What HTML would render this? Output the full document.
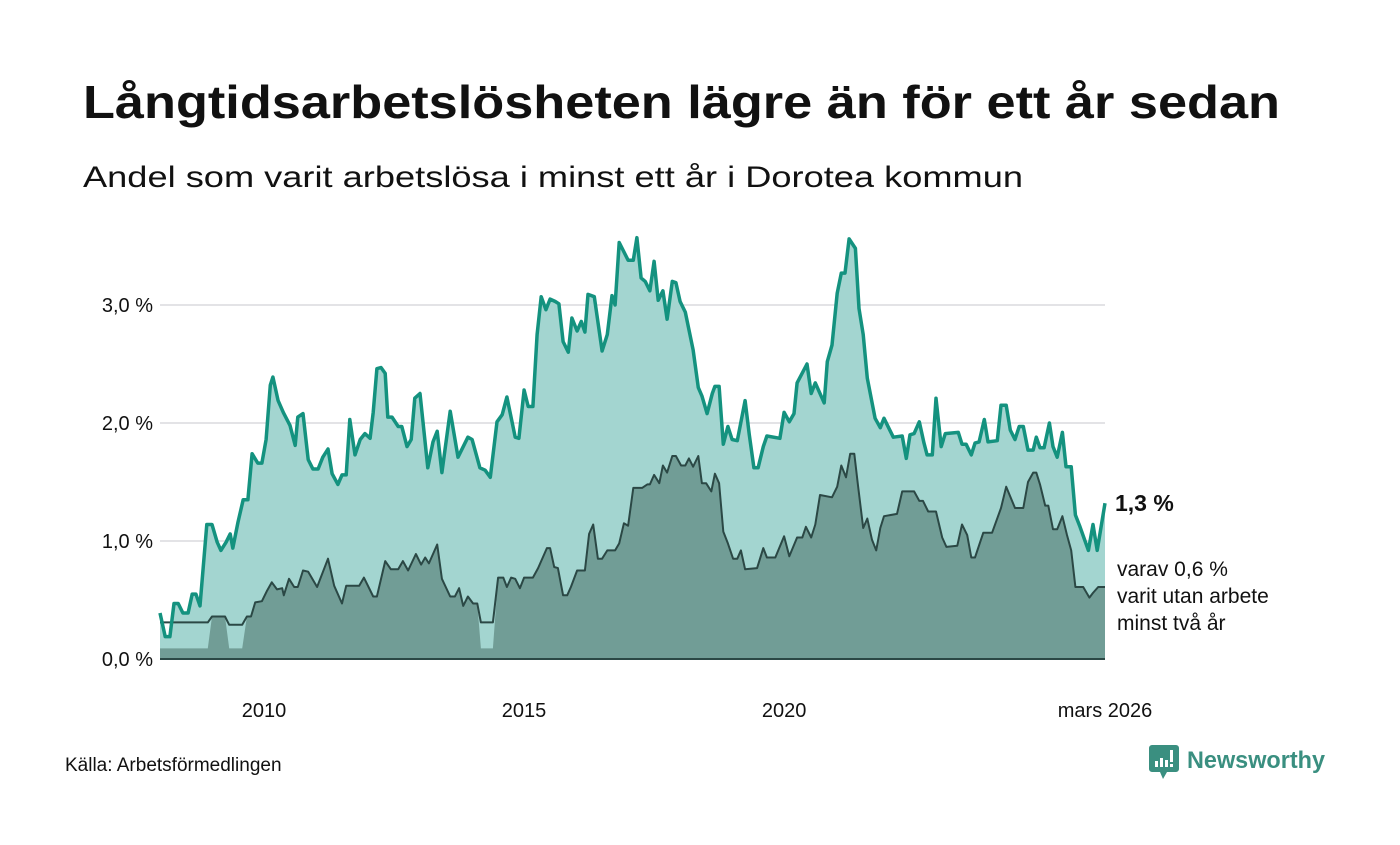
<!DOCTYPE html>
<html><head><meta charset="utf-8">
<style>
html,body{margin:0;padding:0;background:#fff;}
svg text{font-family:"Liberation Sans",sans-serif;}
</style></head>
<body>
<svg id="chart" width="1400" height="840" viewBox="0 0 1400 840" xmlns="http://www.w3.org/2000/svg">
<rect width="1400" height="840" fill="#fff"/>
<text x="83" y="118" font-size="46" font-weight="bold" fill="#111" textLength="1197" lengthAdjust="spacingAndGlyphs">Långtidsarbetslösheten lägre än för ett år sedan</text>
<text x="83" y="187" font-size="30" fill="#111" textLength="940" lengthAdjust="spacingAndGlyphs">Andel som varit arbetslösa i minst ett år i Dorotea kommun</text>
<g id="grid"></g>
<g id="areas"></g>
<g id="yticks"></g>
<g id="xticks"></g>
<text x="1115" y="511" font-size="23" font-weight="bold" fill="#111">1,3 %</text>
<text x="1117" y="576" font-size="21" fill="#111">varav 0,6 %</text>
<text x="1117" y="603" font-size="21" fill="#111">varit utan arbete</text>
<text x="1117" y="630" font-size="21" fill="#111">minst två år</text>
<text x="65" y="771" font-size="19" fill="#111">Källa: Arbetsförmedlingen</text>
<g>
<path d="M1152 745 h24 a3 3 0 0 1 3 3 v21 a3 3 0 0 1 -3 3 h-9 l-4 7 l-3 -7 h-8 a3 3 0 0 1 -3 -3 v-21 a3 3 0 0 1 3 -3z" fill="#3a8f80"/>
<rect x="1155" y="761" width="3" height="6" fill="#fff"/><rect x="1160" y="758" width="3" height="9" fill="#fff"/><rect x="1165" y="760" width="3" height="7" fill="#fff"/><rect x="1170" y="750" width="3" height="12" fill="#fff"/><rect x="1170" y="764" width="3" height="3" fill="#fff"/>
<text x="1187" y="768" font-size="24" font-weight="bold" fill="#3a8f80" textLength="138" lengthAdjust="spacingAndGlyphs">Newsworthy</text>
</g>
</svg>
<script>
const totalT = [2008.00,2008.10,2008.19,2008.27,2008.35,2008.44,2008.54,2008.62,2008.69,2008.77,2008.90,2009.00,2009.10,2009.17,2009.27,2009.35,2009.40,2009.50,2009.60,2009.69,2009.77,2009.88,2009.96,2010.04,2010.12,2010.17,2010.27,2010.37,2010.50,2010.60,2010.65,2010.75,2010.85,2010.94,2011.04,2011.13,2011.23,2011.31,2011.42,2011.50,2011.58,2011.65,2011.75,2011.85,2011.94,2012.04,2012.10,2012.17,2012.25,2012.33,2012.38,2012.46,2012.58,2012.65,2012.75,2012.83,2012.90,2013.00,2013.15,2013.25,2013.33,2013.42,2013.58,2013.73,2013.92,2014.00,2014.15,2014.25,2014.35,2014.48,2014.58,2014.67,2014.83,2014.90,2015.00,2015.08,2015.17,2015.25,2015.33,2015.42,2015.50,2015.60,2015.67,2015.75,2015.85,2015.92,2016.02,2016.10,2016.17,2016.23,2016.35,2016.50,2016.60,2016.69,2016.75,2016.83,2017.00,2017.10,2017.17,2017.25,2017.33,2017.42,2017.50,2017.58,2017.67,2017.75,2017.85,2017.92,2018.00,2018.10,2018.25,2018.35,2018.42,2018.52,2018.62,2018.67,2018.75,2018.83,2018.92,2019.00,2019.10,2019.25,2019.33,2019.42,2019.50,2019.60,2019.67,2019.92,2020.00,2020.10,2020.19,2020.25,2020.44,2020.52,2020.60,2020.77,2020.83,2020.92,2021.02,2021.10,2021.17,2021.25,2021.37,2021.44,2021.52,2021.60,2021.75,2021.85,2021.92,2022.10,2022.27,2022.35,2022.42,2022.50,2022.60,2022.69,2022.75,2022.85,2022.92,2023.02,2023.10,2023.35,2023.42,2023.50,2023.60,2023.67,2023.75,2023.85,2023.92,2024.10,2024.17,2024.27,2024.35,2024.44,2024.52,2024.60,2024.69,2024.79,2024.85,2024.92,2025.00,2025.10,2025.17,2025.25,2025.35,2025.42,2025.52,2025.60,2025.69,2025.85,2025.94,2026.02,2026.17];
const totalV = [0.39,0.19,0.19,0.47,0.47,0.39,0.39,0.55,0.55,0.45,1.14,1.14,0.99,0.92,0.99,1.06,0.94,1.16,1.35,1.35,1.74,1.66,1.66,1.86,2.32,2.39,2.19,2.09,1.98,1.81,2.05,2.08,1.69,1.61,1.61,1.71,1.78,1.57,1.48,1.56,1.56,2.03,1.73,1.86,1.91,1.87,2.09,2.46,2.47,2.42,2.05,2.05,1.97,1.97,1.80,1.86,2.21,2.25,1.62,1.84,1.93,1.58,2.10,1.71,1.88,1.86,1.62,1.60,1.54,2.01,2.07,2.22,1.88,1.87,2.28,2.14,2.14,2.75,3.07,2.96,3.05,3.03,3.01,2.69,2.60,2.89,2.78,2.86,2.77,3.09,3.07,2.61,2.75,3.08,3.00,3.53,3.38,3.38,3.57,3.23,3.20,3.12,3.37,3.04,3.12,2.88,3.20,3.19,3.03,2.94,2.62,2.30,2.23,2.08,2.25,2.31,2.31,1.82,1.97,1.86,1.85,2.19,1.90,1.62,1.62,1.80,1.89,1.87,2.09,2.01,2.08,2.34,2.50,2.25,2.34,2.17,2.52,2.66,3.10,3.27,3.27,3.56,3.48,2.97,2.75,2.38,2.04,1.96,2.04,1.88,1.89,1.70,1.90,1.91,2.01,1.83,1.73,1.73,2.21,1.80,1.91,1.92,1.82,1.82,1.73,1.83,1.84,2.03,1.84,1.85,2.15,2.15,1.94,1.86,1.97,1.97,1.77,1.77,1.88,1.79,1.79,2.00,1.80,1.71,1.92,1.63,1.63,1.22,1.12,0.92,1.14,0.92,1.32];
const longT = [2008.00,2008.92,2009.00,2009.25,2009.33,2009.58,2009.67,2009.75,2009.83,2009.96,2010.06,2010.15,2010.25,2010.35,2010.38,2010.48,2010.58,2010.65,2010.75,2010.85,2011.02,2011.23,2011.35,2011.50,2011.58,2011.83,2011.92,2012.10,2012.17,2012.33,2012.44,2012.58,2012.67,2012.77,2012.92,2013.02,2013.10,2013.17,2013.33,2013.42,2013.58,2013.67,2013.75,2013.83,2013.92,2014.02,2014.10,2014.17,2014.40,2014.50,2014.60,2014.67,2014.75,2014.83,2014.92,2015.00,2015.17,2015.27,2015.44,2015.50,2015.58,2015.65,2015.75,2015.83,2015.90,2016.02,2016.17,2016.25,2016.33,2016.42,2016.50,2016.60,2016.75,2016.83,2016.92,2017.00,2017.10,2017.27,2017.37,2017.42,2017.50,2017.60,2017.67,2017.75,2017.85,2017.92,2018.02,2018.10,2018.17,2018.25,2018.35,2018.42,2018.50,2018.60,2018.67,2018.75,2018.83,2018.92,2019.02,2019.10,2019.17,2019.25,2019.48,2019.60,2019.67,2019.83,2020.00,2020.10,2020.25,2020.35,2020.42,2020.52,2020.60,2020.69,2020.92,2021.02,2021.10,2021.19,2021.27,2021.35,2021.42,2021.52,2021.60,2021.69,2021.77,2021.85,2021.92,2022.17,2022.27,2022.50,2022.60,2022.67,2022.77,2022.92,2023.04,2023.12,2023.33,2023.42,2023.52,2023.60,2023.67,2023.83,2024.00,2024.17,2024.27,2024.44,2024.60,2024.69,2024.79,2024.85,2024.92,2025.02,2025.08,2025.17,2025.25,2025.35,2025.44,2025.52,2025.60,2025.75,2025.87,2025.94,2026.04,2026.17];
const longV = [0.31,0.31,0.36,0.36,0.29,0.29,0.36,0.36,0.48,0.49,0.58,0.65,0.59,0.60,0.54,0.68,0.61,0.61,0.75,0.74,0.61,0.85,0.62,0.47,0.62,0.62,0.69,0.53,0.53,0.83,0.76,0.76,0.83,0.75,0.89,0.80,0.86,0.81,0.97,0.68,0.53,0.53,0.60,0.45,0.53,0.47,0.47,0.31,0.31,0.69,0.69,0.61,0.69,0.68,0.60,0.69,0.69,0.77,0.94,0.94,0.78,0.77,0.54,0.54,0.61,0.75,0.75,1.06,1.14,0.85,0.85,0.92,0.92,0.98,1.15,1.13,1.45,1.45,1.48,1.48,1.56,1.49,1.64,1.58,1.72,1.72,1.64,1.64,1.70,1.63,1.72,1.49,1.49,1.42,1.57,1.49,1.08,0.98,0.85,0.85,0.92,0.76,0.77,0.94,0.86,0.86,1.04,0.87,1.03,1.03,1.12,1.03,1.14,1.39,1.37,1.46,1.64,1.54,1.74,1.74,1.47,1.11,1.19,1.01,0.92,1.11,1.21,1.23,1.42,1.42,1.34,1.34,1.25,1.25,1.03,0.95,0.96,1.14,1.05,0.86,0.86,1.07,1.07,1.28,1.46,1.28,1.28,1.50,1.58,1.58,1.48,1.30,1.30,1.10,1.10,1.21,1.05,0.92,0.61,0.61,0.52,0.56,0.61,0.61];
const missingRanges = [[2008.0,2008.95],[2009.3,2009.62],[2014.15,2014.42]];
const yTicks = [0,1,2,3];
const yTickLabels = ["0,0 %","1,0 %","2,0 %","3,0 %"];
const xTicks = [2010,2015,2020,2026.17];
const xTickLabels = ["2010","2015","2020","mars 2026"];

const NS="http://www.w3.org/2000/svg";
const X0=160,X1=1105,T0=2008,T1=2026.17,Y0=659,PXV=118;
function xs(t){return X0+(t-T0)/(T1-T0)*(X1-X0);}
function ys(v){return Y0-v*PXV;}
function mk(tag,attrs,parent){const e=document.createElementNS(NS,tag);for(const k in attrs)e.setAttribute(k,attrs[k]);parent.appendChild(e);return e;}
const grid=document.getElementById('grid'),areas=document.getElementById('areas'),yt=document.getElementById('yticks'),xt=document.getElementById('xticks');
yTicks.forEach((v,i)=>{
  if(v>0){const l=mk('line',{x1:X0,x2:X1,y1:ys(v),y2:ys(v),stroke:'#e3e3e6','stroke-width':2},grid);
  
  }
  const t=mk('text',{x:153,y:ys(v)+7,'text-anchor':'end','font-size':20,fill:'#111'},yt);
  
  
  t.textContent=yTickLabels[i];
});
xTicks.forEach((v,i)=>{
  const t=mk('text',{x:xs(v),y:717,'text-anchor':'middle','font-size':20,fill:'#111'},xt);
  
  
  t.textContent=xTickLabels[i];
});
function pts(T,V){return T.map((t,i)=>xs(t).toFixed(1)+','+ys(V[i]).toFixed(1)).join(' ');}
const tp=pts(totalT,totalV);
const a1=mk('polygon',{points:xs(totalT[0])+','+Y0+' '+tp+' '+xs(totalT[totalT.length-1])+','+Y0,fill:'#a3d5d0'},areas);


const inMissing=t=>missingRanges.some(r=>t>=r[0]&&t<=r[1]);
const fillV=longV.map((v,i)=>inMissing(longT[i])?0.09:v);
const a2=mk('polygon',{points:xs(longT[0])+','+Y0+' '+pts(longT,fillV)+' '+xs(longT[longT.length-1])+','+Y0,fill:'#719d96'},areas);


const l2=mk('polyline',{points:pts(longT,longV),fill:'none',stroke:'#2b4845','stroke-width':2,'stroke-linejoin':'round'},areas);


const l1=mk('polyline',{points:tp,fill:'none',stroke:'#14927f','stroke-width':3.5,'stroke-linejoin':'round'},areas);


const b=mk('line',{x1:X0,x2:X1,y1:Y0,y2:Y0,stroke:'#2b4845','stroke-width':2},areas);


</script>
</body></html>
